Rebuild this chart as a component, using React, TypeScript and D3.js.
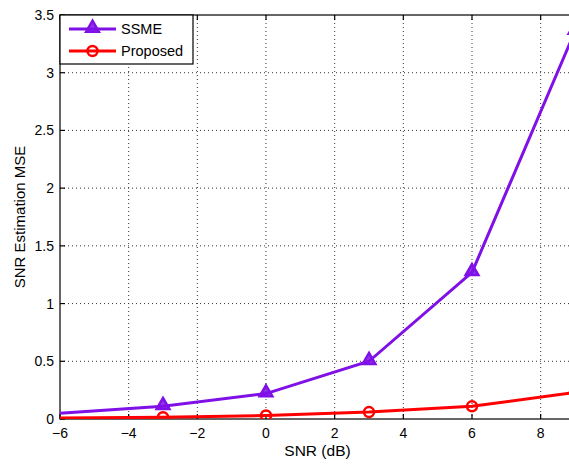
import { useEffect, useRef } from "react"
import * as d3 from "d3"

// SNR sweep (dB) and the MSE of the two estimators
const snrDb = [-6, -3, 0, 3, 6, 9]
const ssmeMse = [0.05, 0.11, 0.22, 0.5, 1.27, 3.36]
const proposedMse = [0.008, 0.015, 0.03, 0.06, 0.11, 0.23]

const xTicks = [-6, -4, -2, 0, 2, 4, 6, 8]
const yTicks = [0, 0.5, 1, 1.5, 2, 2.5, 3, 3.5]

const seriesNames = ["SSME", "Proposed"]
const PURPLE = "#7f10e6"
const RED = "#ff0000"

export default function App() {
  const ref = useRef<SVGSVGElement>(null)

  useEffect(() => {
    if (!ref.current) return
    const el = ref.current
    d3.select(el).selectAll("*").remove()

    const W = 569
    const H = 464
    // the axes run past the right edge of the picture (x = 9 is off-canvas)
    const left = 60
    const right = 575
    const top = 15
    const bottom = 419

    const svg = d3.select(el).attr("width", W).attr("height", H)
    const font = "Liberation Sans, Arial, Helvetica, sans-serif"

    const x = d3.scaleLinear().domain([-6, 9]).range([left, right])
    const y = d3.scaleLinear().domain([0, 3.5]).range([bottom, top])

    svg.append("rect").attr("width", W).attr("height", H).attr("fill", "white")

    svg
      .append("defs")
      .append("clipPath")
      .attr("id", "plot-clip")
      .append("rect")
      .attr("x", left)
      .attr("y", top)
      .attr("width", right - left)
      .attr("height", bottom - top)

    // dotted grid
    const grid = svg.append("g").attr("stroke", "#333").attr("stroke-width", 1).attr("stroke-dasharray", "1,3")
    xTicks
      .filter((t) => t > -6)
      .forEach((t) => {
        grid.append("line").attr("x1", x(t)).attr("x2", x(t)).attr("y1", top).attr("y2", bottom)
      })
    yTicks
      .filter((t) => t > 0 && t < 3.5)
      .forEach((t) => {
        grid.append("line").attr("x1", left).attr("x2", right).attr("y1", y(t)).attr("y2", y(t))
      })

    // box + inward ticks
    const axes = svg.append("g").attr("stroke", "black").attr("stroke-width", 1.2).attr("fill", "none")
    axes.append("rect").attr("x", left).attr("y", top).attr("width", right - left).attr("height", bottom - top)
    xTicks.forEach((t) => {
      axes.append("line").attr("x1", x(t)).attr("x2", x(t)).attr("y1", bottom).attr("y2", bottom - 5)
      axes.append("line").attr("x1", x(t)).attr("x2", x(t)).attr("y1", top).attr("y2", top + 5)
    })
    yTicks.forEach((t) => {
      axes.append("line").attr("x1", left).attr("x2", left + 5).attr("y1", y(t)).attr("y2", y(t))
    })

    const fmt = (v: number) => (v < 0 ? `\u2212${Math.abs(v)}` : `${v}`)
    svg
      .append("g")
      .selectAll("text")
      .data(xTicks)
      .join("text")
      .attr("x", (d) => x(d))
      .attr("y", bottom + 19)
      .attr("text-anchor", "middle")
      .attr("font-family", font)
      .attr("font-size", 14)
      .text((d) => fmt(d))

    svg
      .append("g")
      .selectAll("text")
      .data(yTicks)
      .join("text")
      .attr("x", left - 6)
      .attr("y", (d) => y(d) + 5)
      .attr("text-anchor", "end")
      .attr("font-family", font)
      .attr("font-size", 14)
      .text((d) => `${d}`)

    svg
      .append("text")
      .attr("x", x(1.5))
      .attr("y", 456)
      .attr("text-anchor", "middle")
      .attr("font-family", font)
      .attr("font-size", 15.5)
      .text("SNR (dB)")

    svg
      .append("text")
      .attr("transform", `translate(25,${(top + bottom) / 2}) rotate(-90)`)
      .attr("text-anchor", "middle")
      .attr("font-family", font)
      .attr("font-size", 15)
      .text("SNR Estimation MSE")

    const plot = svg.append("g").attr("clip-path", "url(#plot-clip)")
    const line = d3
      .line<number>()
      .x((_, i) => x(snrDb[i]))
      .y((d) => y(d))

    const tri = d3.symbol().type(d3.symbolTriangle).size(70)

    plot
      .append("path")
      .attr("d", line(ssmeMse))
      .attr("fill", "none")
      .attr("stroke", PURPLE)
      .attr("stroke-width", 3)
    plot
      .append("path")
      .attr("d", line(proposedMse))
      .attr("fill", "none")
      .attr("stroke", RED)
      .attr("stroke-width", 3)

    // markers are not shown at the left edge
    const idx = snrDb.map((_, i) => i).filter((i) => snrDb[i] > -6)
    plot
      .selectAll("path.tri")
      .data(idx)
      .join("path")
      .attr("class", "tri")
      .attr("d", tri)
      .attr("transform", (i) => `translate(${x(snrDb[i])},${y(ssmeMse[i]) - 1})`)
      .attr("fill", PURPLE)
      .attr("fill-opacity", 0.85)
      .attr("stroke", PURPLE)
      .attr("stroke-width", 2.5)
      .attr("stroke-linejoin", "miter")
    plot
      .selectAll("circle.pt")
      .data(idx)
      .join("circle")
      .attr("class", "pt")
      .attr("cx", (i) => x(snrDb[i]))
      .attr("cy", (i) => y(proposedMse[i]))
      .attr("r", 5)
      .attr("fill", "none")
      .attr("stroke", RED)
      .attr("stroke-width", 2.5)

    // legend
    const lg = svg.append("g")
    lg.append("rect")
      .attr("x", left)
      .attr("y", top)
      .attr("width", 133)
      .attr("height", 49)
      .attr("fill", "white")
      .attr("stroke", "black")
      .attr("stroke-width", 1.2)
    seriesNames.forEach((name, k) => {
      const ly = top + 14 + k * 22
      const color = k === 0 ? PURPLE : RED
      lg.append("line")
        .attr("x1", 69)
        .attr("x2", 116)
        .attr("y1", ly)
        .attr("y2", ly)
        .attr("stroke", color)
        .attr("stroke-width", 3)
      if (k === 0) {
        lg.append("path")
          .attr("d", tri)
          .attr("transform", `translate(92.5,${ly - 1})`)
          .attr("fill", PURPLE)
          .attr("fill-opacity", 0.85)
          .attr("stroke", PURPLE)
          .attr("stroke-width", 2.5)
      } else {
        lg.append("circle")
          .attr("cx", 92.5)
          .attr("cy", ly)
          .attr("r", 5)
          .attr("fill", "none")
          .attr("stroke", RED)
          .attr("stroke-width", 2.5)
      }
      lg.append("text")
        .attr("x", 121)
        .attr("y", ly + 5)
        .attr("font-family", font)
        .attr("font-size", 14.5)
        .text(name)
    })
  }, [])

  return <svg ref={ref} style={{ position: "absolute", left: 0, top: 0, display: "block" }} />
}
